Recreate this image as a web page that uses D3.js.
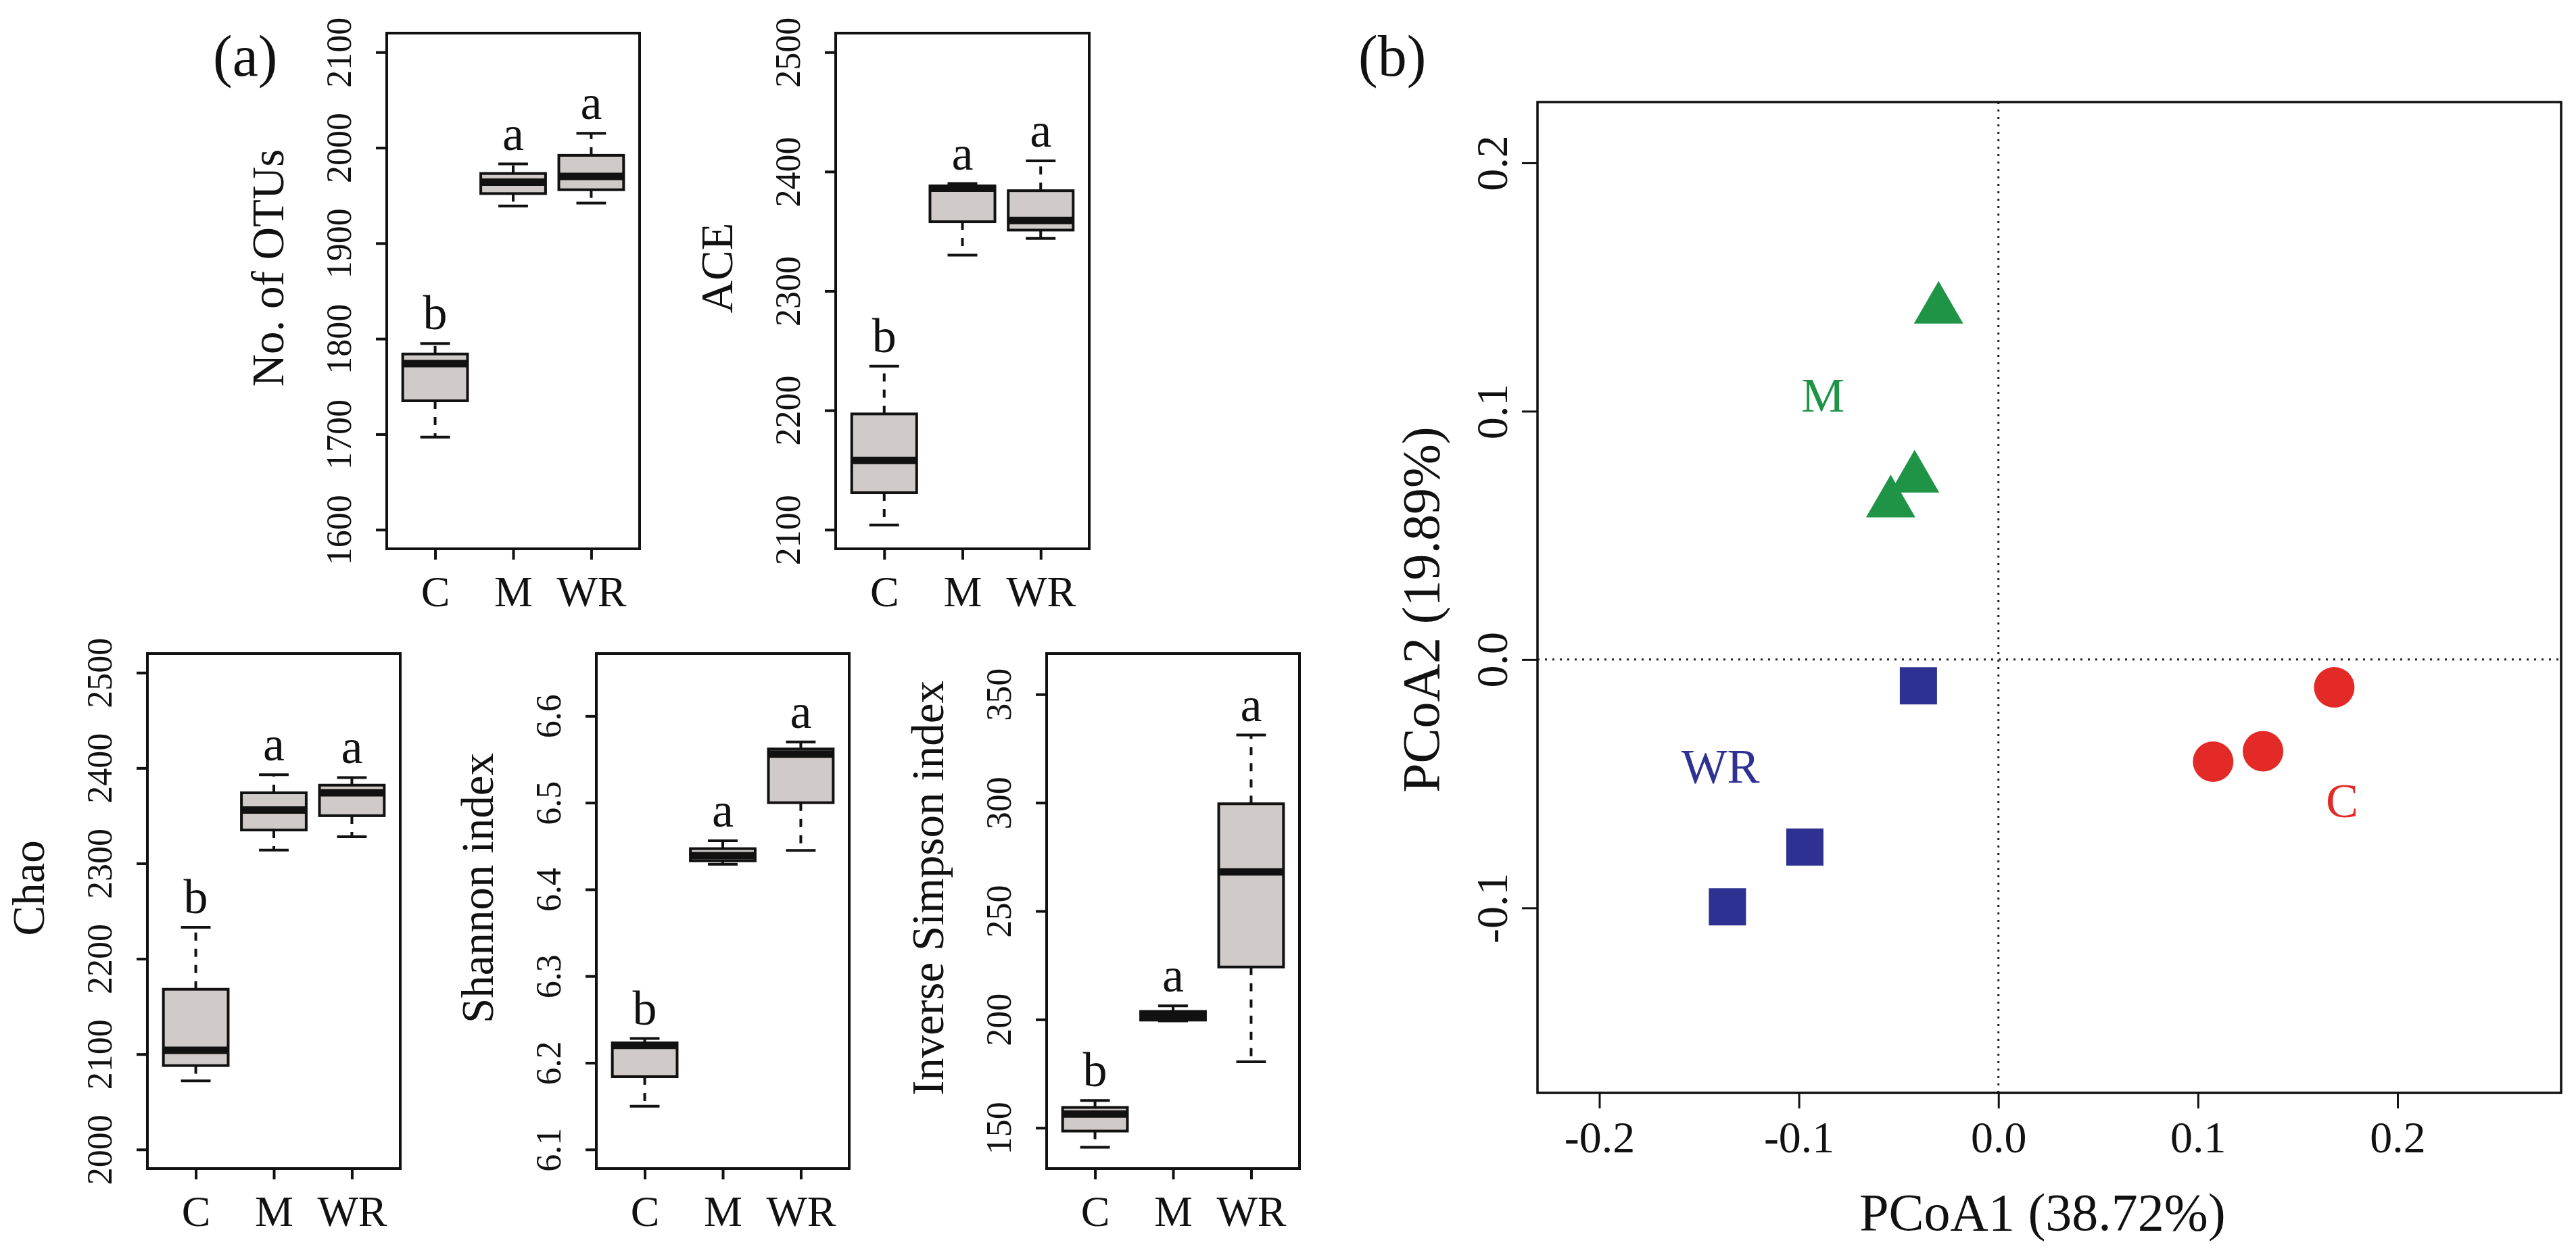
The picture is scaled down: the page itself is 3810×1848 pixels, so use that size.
<!DOCTYPE html>
<html>
<head>
<meta charset="utf-8">
<script src="https://cdn.jsdelivr.net/npm/d3@7"></script>
<style>
html, body { margin: 0; padding: 0; background: #ffffff; }
svg { display: block; font-family: "Liberation Serif", "Times New Roman", serif; }
</style>
</head>
<body>
<svg id="chart" width="3810" height="1848"></svg>
<script>
// ----------------------------------------------------------------------------
// Data
// ----------------------------------------------------------------------------

var groups = ["C", "M", "WR"];

// Box summaries per group: [lower whisker, Q1, median, Q3, upper whisker]
var otuStats = [[1697, 1735, 1774, 1784, 1795], [1939, 1952, 1964, 1973, 1983], [1942, 1956, 1970, 1992, 2015]];
var aceStats = [[2104, 2131, 2158, 2197, 2237], [2330, 2358, 2386, 2388, 2390], [2344, 2351, 2359, 2384, 2409]];
var chaoStats = [[2072, 2088, 2104, 2168, 2233], [2314, 2335, 2356, 2374, 2393], [2328, 2350, 2374, 2382, 2390]];
var shannonStats = [[6.150, 6.184, 6.220, 6.223, 6.228], [6.429, 6.433, 6.439, 6.447, 6.456], [6.445, 6.500, 6.556, 6.562, 6.570]];
var invSimpsonStats = [[141, 148.5, 156.4, 159.4, 162.6], [199.3, 199.7, 201.8, 203.7, 206.3], [180.5, 224.2, 268.1, 299.5, 331.2]];

// Significance letters
var otuLetters = ["b", "a", "a"];
var aceLetters = ["b", "a", "a"];
var chaoLetters = ["b", "a", "a"];
var shannonLetters = ["b", "a", "a"];
var invSimpsonLetters = ["b", "a", "a"];

// Axis limits and ticks
var otuLim = [1600, 2100];
var otuTicks = [1600, 1700, 1800, 1900, 2000, 2100];
var aceLim = [2100, 2500];
var aceTicks = [2100, 2200, 2300, 2400, 2500];
var chaoLim = [2000, 2500];
var chaoTicks = [2000, 2100, 2200, 2300, 2400, 2500];
var shannonLim = [6.1, 6.65];
var shannonTicks = [6.1, 6.2, 6.3, 6.4, 6.5, 6.6];
var invSimpsonLim = [140, 360];
var invSimpsonTicks = [150, 200, 250, 300, 350];

// PCoA ordination
var pcoaGroups = ["C", "C", "C", "M", "M", "M", "WR", "WR", "WR"];
var pcoa1 = [0.1683, 0.1326, 0.1076, -0.030, -0.042, -0.054, -0.0401, -0.0970, -0.1358];
var pcoa2 = [-0.0112, -0.0369, -0.0411, 0.141, 0.073, 0.063, -0.0106, -0.0755, -0.0996];
var groupLabelX = [0.1722, -0.0879, -0.1393];
var groupLabelY = [-0.0565, 0.1066, -0.0427];
var pcoaXLim = [-0.212, 0.263];
var pcoaYLim = [-0.1597, 0.2097];
var pcoaXTicks = [-0.2, -0.1, 0.0, 0.1, 0.2];
var pcoaXTickLabels = ["-0.2", "-0.1", "0.0", "0.1", "0.2"];
var pcoaYTicks = [-0.1, 0.0, 0.1, 0.2];
var pcoaYTickLabels = ["-0.1", "0.0", "0.1", "0.2"];

var groupColors = { "C": "#e42a26", "M": "#1f9446", "WR": "#2e3192" };
var boxFill = "#d0cbc8";

// ----------------------------------------------------------------------------
// Helpers
// ----------------------------------------------------------------------------

var svg = d3.select("#chart");

// R-style 4% axis extension
function extend(lim) {
    var pad = (lim[1] - lim[0]) * 0.04;
    return [lim[0] - pad, lim[1] + pad];
}

// Draws one boxplot panel in the given rectangle.
function drawBoxPanel(p) {
    var g = svg.append("g");
    var x = d3.scaleLinear().domain(extend([0.5, 3.5])).range([p.left, p.right]);
    var y = d3.scaleLinear().domain(extend(p.lim)).range([p.bottom, p.top]);
    var unit = x(2) - x(1);
    var halfBox = unit * 0.415;
    var halfCap = unit * 0.19;

    // y axis
    var yAxis = g.append("g")
        .attr("transform", "translate(" + p.left + ",0)")
        .call(d3.axisLeft(y).tickValues(p.ticks).tickSize(16).tickFormat(function(d) { return p.fmt(d); }));
    yAxis.select(".domain").remove();
    yAxis.selectAll("line").attr("stroke", "#111").attr("stroke-width", 4);
    yAxis.selectAll("text")
        .attr("x", null).attr("dy", null)
        .attr("transform", "translate(-53,0) rotate(-90)")
        .style("text-anchor", "middle")
        .style("font-size", "52px")
        .style("font-family", "Liberation Serif")
        .attr("fill", "#111");

    // x axis
    var xAxis = g.append("g")
        .attr("transform", "translate(0," + p.bottom + ")")
        .call(d3.axisBottom(x).tickValues([1, 2, 3]).tickSize(16).tickFormat(function(d) { return groups[d - 1]; }));
    xAxis.select(".domain").remove();
    xAxis.selectAll("line").attr("stroke", "#111").attr("stroke-width", 4);
    xAxis.selectAll("text")
        .attr("y", 85).attr("dy", null)
        .style("font-size", "64px")
        .style("font-family", "Liberation Serif")
        .attr("fill", "#111");

    // boxes
    p.stats.forEach(function(s, i) {
        var cx = x(i + 1);
        var bg = g.append("g");
        // whiskers (dashed)
        bg.append("line").attr("x1", cx).attr("x2", cx).attr("y1", y(s[3])).attr("y2", y(s[4]))
            .attr("stroke", "#111").attr("stroke-width", 4).attr("stroke-dasharray", "12 12");
        bg.append("line").attr("x1", cx).attr("x2", cx).attr("y1", y(s[1])).attr("y2", y(s[0]))
            .attr("stroke", "#111").attr("stroke-width", 4).attr("stroke-dasharray", "12 12");
        // staples
        [s[0], s[4]].forEach(function(v) {
            bg.append("line").attr("x1", cx - halfCap).attr("x2", cx + halfCap).attr("y1", y(v)).attr("y2", y(v))
                .attr("stroke", "#111").attr("stroke-width", 4);
        });
        // box
        bg.append("rect").attr("x", cx - halfBox).attr("y", y(s[3]))
            .attr("width", halfBox * 2).attr("height", Math.max(y(s[1]) - y(s[3]), 1))
            .attr("fill", boxFill).attr("stroke", "#111").attr("stroke-width", 4);
        // median
        bg.append("line").attr("x1", cx - halfBox).attr("x2", cx + halfBox).attr("y1", y(s[2])).attr("y2", y(s[2]))
            .attr("stroke", "#111").attr("stroke-width", 11);
        // letter
        g.append("text").attr("x", cx).attr("y", y(s[4]) - 21)
            .attr("text-anchor", "middle").style("font-size", "72px").attr("fill", "#111")
            .text(p.letters[i]);
    });

    // frame
    g.append("rect").attr("x", p.left).attr("y", p.top)
        .attr("width", p.right - p.left).attr("height", p.bottom - p.top)
        .attr("fill", "none").attr("stroke", "#111").attr("stroke-width", 4);

    // y title
    var ty = (p.top + p.bottom) / 2 - 34;
    g.append("text")
        .attr("transform", "translate(" + (p.left - 153) + "," + ty + ") rotate(-90)")
        .attr("text-anchor", "middle").style("font-size", "67px").attr("fill", "#111")
        .text(p.title);
}

function plain(d) { return String(d); }
function oneDec(d) { return d.toFixed(1); }

// ----------------------------------------------------------------------------
// Panel (a)
// ----------------------------------------------------------------------------

svg.append("text").attr("x", 315).attr("y", 112).style("font-size", "86px").attr("fill", "#111").text("(a)");

drawBoxPanel({ left: 572, right: 946, top: 49, bottom: 812, lim: otuLim, ticks: otuTicks, fmt: plain,
    stats: otuStats, letters: otuLetters, title: "No. of OTUs" });
drawBoxPanel({ left: 1236, right: 1611, top: 49, bottom: 812, lim: aceLim, ticks: aceTicks, fmt: plain,
    stats: aceStats, letters: aceLetters, title: "ACE" });
drawBoxPanel({ left: 218, right: 592, top: 967, bottom: 1729, lim: chaoLim, ticks: chaoTicks, fmt: plain,
    stats: chaoStats, letters: chaoLetters, title: "Chao" });
drawBoxPanel({ left: 882, right: 1256, top: 967, bottom: 1729, lim: shannonLim, ticks: shannonTicks, fmt: oneDec,
    stats: shannonStats, letters: shannonLetters, title: "Shannon index" });
drawBoxPanel({ left: 1548, right: 1922, top: 967, bottom: 1729, lim: invSimpsonLim, ticks: invSimpsonTicks, fmt: plain,
    stats: invSimpsonStats, letters: invSimpsonLetters, title: "Inverse Simpson index" });

// ----------------------------------------------------------------------------
// Panel (b): PCoA
// ----------------------------------------------------------------------------

function drawPCoA() {
    var L = 2274, R = 3788, T = 151, B = 1617;
    var g = svg.append("g");
    var x = d3.scaleLinear().domain(extend(pcoaXLim)).range([L, R]);
    var y = d3.scaleLinear().domain(extend(pcoaYLim)).range([B, T]);

    svg.append("text").attr("x", 2009).attr("y", 112).style("font-size", "86px").attr("fill", "#111").text("(b)");

    // zero lines
    g.append("line").attr("x1", x(0)).attr("x2", x(0)).attr("y1", T).attr("y2", B)
        .attr("stroke", "#222").attr("stroke-width", 3).attr("stroke-dasharray", "3 8");
    g.append("line").attr("x1", L).attr("x2", R).attr("y1", y(0)).attr("y2", y(0))
        .attr("stroke", "#222").attr("stroke-width", 3).attr("stroke-dasharray", "3 8");

    var xAxis = g.append("g").attr("transform", "translate(0," + B + ")")
        .call(d3.axisBottom(x).tickValues(pcoaXTicks).tickSize(23)
            .tickFormat(function(d, i) { return pcoaXTickLabels[i]; }));
    xAxis.select(".domain").remove();
    xAxis.selectAll("line").attr("stroke", "#111").attr("stroke-width", 3);
    xAxis.selectAll("text").attr("y", 88).attr("dy", null)
        .style("font-size", "66px").style("font-family", "Liberation Serif").attr("fill", "#111");

    var yAxis = g.append("g").attr("transform", "translate(" + L + ",0)")
        .call(d3.axisLeft(y).tickValues(pcoaYTicks).tickSize(23)
            .tickFormat(function(d, i) { return pcoaYTickLabels[i]; }));
    yAxis.select(".domain").remove();
    yAxis.selectAll("line").attr("stroke", "#111").attr("stroke-width", 3);
    yAxis.selectAll("text").attr("x", null).attr("dy", null)
        .attr("transform", "translate(-45,0) rotate(-90)")
        .style("text-anchor", "middle")
        .style("font-size", "66px").style("font-family", "Liberation Serif").attr("fill", "#111");

    // points
    pcoa1.forEach(function(v, i) {
        var grp = pcoaGroups[i];
        var px = x(v), py = y(pcoa2[i]);
        if (grp === "C") {
            g.append("circle").attr("cx", px).attr("cy", py).attr("r", 30).attr("fill", groupColors[grp]);
        } else {
            var shape = grp === "M" ? d3.symbolTriangle : d3.symbolSquare;
            var area = grp === "M" ? 2300 : 3025;
            g.append("path").attr("d", d3.symbol().type(shape).size(area)())
                .attr("transform", "translate(" + px + "," + py + ")")
                .attr("fill", groupColors[grp]);
        }
    });

    // group labels
    groups.forEach(function(grp, i) {
        g.append("text").attr("x", x(groupLabelX[i])).attr("y", y(groupLabelY[i]))
            .attr("dy", "0.35em").attr("text-anchor", "middle")
            .style("font-size", "72px").attr("fill", groupColors[grp]).text(grp);
    });

    // frame
    g.append("rect").attr("x", L).attr("y", T).attr("width", R - L).attr("height", B - T)
        .attr("fill", "none").attr("stroke", "#111").attr("stroke-width", 3.5);

    // titles
    g.append("text").attr("x", (L + R) / 2 - 10).attr("y", 1820).attr("text-anchor", "middle")
        .style("font-size", "78px").attr("fill", "#111").text("PCoA1 (38.72%)");
    g.append("text").attr("transform", "translate(2128," + ((T + B) / 2 + 18) + ") rotate(-90)")
        .attr("text-anchor", "middle").style("font-size", "78px").attr("fill", "#111").text("PCoA2 (19.89%)");
}

drawPCoA();
</script>
</body>
</html>
